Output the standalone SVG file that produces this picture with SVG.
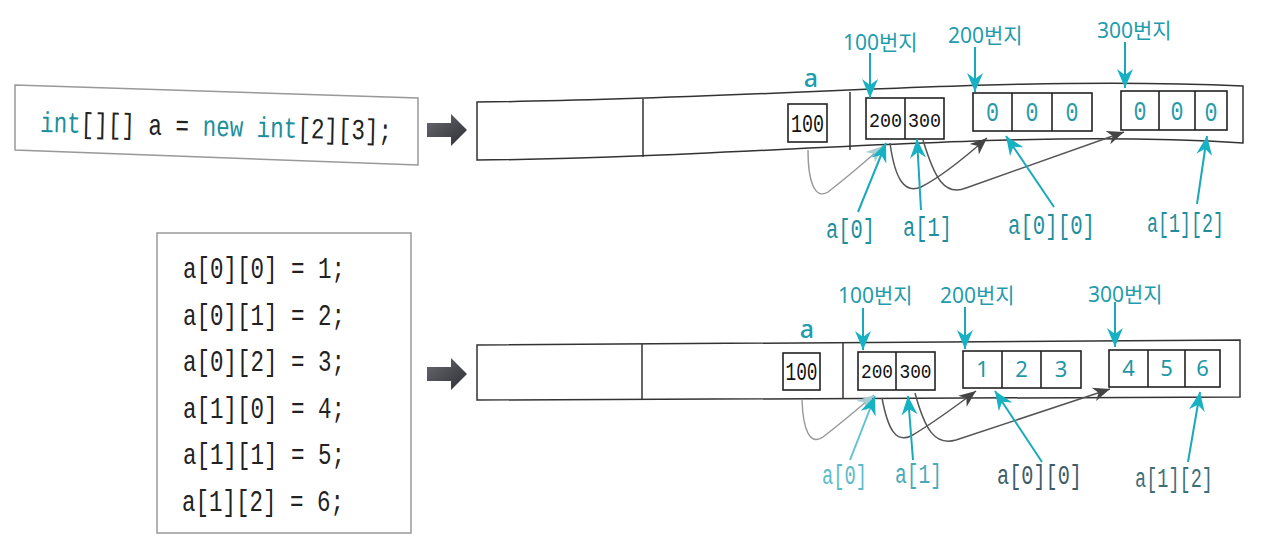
<svg xmlns="http://www.w3.org/2000/svg" width="1280" height="543" viewBox="0 0 1280 543">
<defs>
<style>
.code{font-family:"Liberation Mono","DejaVu Sans Mono",monospace;font-size:29px;fill:#222}
.kw{fill:#1c8f9b}
.lbl{font-family:"Noto Sans","Noto Sans CJK KR",sans-serif;font-size:21px;fill:#1f9cad}
.idx{font-family:"Liberation Mono","DejaVu Sans Mono",monospace;font-size:27px;fill:#1f8f9e}
.cell{fill:#fff;stroke:#222;stroke-width:1.6}
.band{fill:#fff;stroke:#333;stroke-width:1.5}
.num{font-family:"Liberation Mono","DejaVu Sans Mono",monospace;font-size:25px;fill:#111;text-anchor:middle}
.num2{font-family:"Liberation Mono","DejaVu Sans Mono",monospace;font-size:21px;fill:#111;text-anchor:middle}
.zero{font-family:"Liberation Mono","DejaVu Sans Mono",monospace;font-size:27px;fill:#2a9aa8;text-anchor:middle}
.val{font-family:"Noto Sans",sans-serif;font-size:22px;fill:#1f97a8;text-anchor:middle}
.var{font-family:"Noto Sans",sans-serif;font-size:25px;font-weight:500;fill:#1f9cad;text-anchor:middle}
.tl{fill:none;stroke:#1aa9bb;stroke-width:2}
.gl{fill:none;stroke:#555;stroke-width:1.5}
.gll{fill:none;stroke:#999;stroke-width:1.4}
.box{fill:#fff;stroke:#999;stroke-width:1.5}
</style>
<linearGradient id="gArrow" x1="0" y1="0" x2="1" y2="1">
<stop offset="0" stop-color="#6a6a72"/><stop offset="1" stop-color="#2e2e34"/>
</linearGradient>
<marker id="teal" markerUnits="userSpaceOnUse" markerWidth="22" markerHeight="16" viewBox="-20 -8 22 16" refX="0" refY="0" orient="auto">
<path d="M0,0 L-19,-8 L-13,0 L-19,8 Z" fill="#16b2c4"/>
</marker>
<marker id="gray" markerUnits="userSpaceOnUse" markerWidth="20" markerHeight="14" viewBox="-18 -7 20 14" refX="0" refY="0" orient="auto">
<path d="M0,0 L-17,-7 L-12,0 L-17,7 Z" fill="#444"/>
</marker>
<marker id="grayL" markerUnits="userSpaceOnUse" markerWidth="20" markerHeight="14" viewBox="-18 -7 20 14" refX="0" refY="0" orient="auto">
<path d="M0,0 L-17,-7 L-12,0 L-17,7 Z" fill="#a9cdd2"/>
</marker>
<path id="bigArrow" d="M0,9 L24,9 L24,0 L40,16 L24,32 L24,23 L0,23 Z"/>
</defs>
<rect width="1280" height="543" fill="#fff"/>

<!-- top code box -->
<g id="code1">
<polygon class="box" points="15,85 418,98 418,165 15,150"/>
<text class="code" x="40" y="132" transform="rotate(1.3 40 132)" textLength="352" lengthAdjust="spacingAndGlyphs"><tspan class="kw">int</tspan>[][] a = <tspan class="kw">new</tspan> <tspan class="kw">int</tspan>[2][3];</text>
</g>
<g id="arrow1"><use href="#bigArrow" x="427" y="114" fill="url(#gArrow)"/></g>

<!-- top memory band -->
<g id="mem1">
<path class="band" d="M477,102 C750,100 1000,75 1243,86 L1243,143 C1000,128 750,158 477,160 Z"/>
<line x1="643" y1="99" x2="643" y2="157" stroke="#333" stroke-width="1.5"/>
<line x1="850" y1="92" x2="850" y2="150" stroke="#333" stroke-width="1.5"/>
</g>
<g id="var1">
<text class="var" x="811" y="87">a</text>
<rect class="cell" x="788" y="104" width="39" height="38"/>
<text class="num" x="807.5" y="132" textLength="33" lengthAdjust="spacingAndGlyphs">100</text>
</g>
<g id="ref1">
<rect class="cell" x="866" y="98" width="78" height="41"/>
<line x1="905" y1="98" x2="905" y2="139" stroke="#222" stroke-width="1.6"/>
<text class="num2" x="885.5" y="127" font-size="21.5" textLength="33" lengthAdjust="spacingAndGlyphs">200</text>
<text class="num2" x="924.5" y="127" font-size="21.5" textLength="33" lengthAdjust="spacingAndGlyphs">300</text>
</g>
<g id="row1a">
<rect class="cell" x="973" y="93" width="119" height="38"/>
<line x1="1012" y1="93" x2="1012" y2="131" stroke="#222" stroke-width="1.6"/>
<line x1="1052" y1="93" x2="1052" y2="131" stroke="#222" stroke-width="1.6"/>
<text class="zero" x="992.5" y="121" textLength="13" lengthAdjust="spacingAndGlyphs">0</text>
<text class="zero" x="1032" y="121" textLength="13" lengthAdjust="spacingAndGlyphs">0</text>
<text class="zero" x="1072" y="121" textLength="13" lengthAdjust="spacingAndGlyphs">0</text>
</g>
<g id="row1b">
<rect class="cell" x="1121" y="91" width="106" height="39"/>
<line x1="1159" y1="91" x2="1159" y2="130" stroke="#222" stroke-width="1.6"/>
<line x1="1195" y1="91" x2="1195" y2="130" stroke="#222" stroke-width="1.6"/>
<text class="zero" x="1140" y="120" textLength="13" lengthAdjust="spacingAndGlyphs">0</text>
<text class="zero" x="1177" y="120" textLength="13" lengthAdjust="spacingAndGlyphs">0</text>
<text class="zero" x="1211" y="121" textLength="13" lengthAdjust="spacingAndGlyphs">0</text>
</g>
<g id="labels1">
<text class="lbl" x="843" y="50">100번지</text>
<text class="lbl" x="948" y="43">200번지</text>
<text class="lbl" x="1097" y="38">300번지</text>
<text class="idx" x="826" y="238" textLength="49" lengthAdjust="spacingAndGlyphs">a[0]</text>
<text class="idx" x="903" y="236" textLength="49" lengthAdjust="spacingAndGlyphs">a[1]</text>
<text class="idx" x="1008" y="234" textLength="87" lengthAdjust="spacingAndGlyphs">a[0][0]</text>
<text class="idx" x="1147" y="232" textLength="77" lengthAdjust="spacingAndGlyphs">a[1][2]</text>
</g>

<!-- bottom code box -->
<g id="code2">
<rect class="box" x="157" y="233" width="254" height="300"/>
<text class="code" x="183" y="278" font-size="27" textLength="162" lengthAdjust="spacingAndGlyphs">a[0][0] = 1;</text>
<text class="code" x="183" y="324.6" font-size="27" textLength="162" lengthAdjust="spacingAndGlyphs">a[0][1] = 2;</text>
<text class="code" x="183" y="371" font-size="27" textLength="162" lengthAdjust="spacingAndGlyphs">a[0][2] = 3;</text>
<text class="code" x="183" y="418" font-size="27" textLength="162" lengthAdjust="spacingAndGlyphs">a[1][0] = 4;</text>
<text class="code" x="183" y="464" font-size="27" textLength="162" lengthAdjust="spacingAndGlyphs">a[1][1] = 5;</text>
<text class="code" x="182" y="511" font-size="27" textLength="162" lengthAdjust="spacingAndGlyphs">a[1][2] = 6;</text>
</g>
<g id="arrow2"><use href="#bigArrow" x="427" y="358" fill="url(#gArrow)"/></g>

<!-- bottom memory band -->
<g id="mem2">
<polygon class="band" points="477,345 1240,340 1240,397 477,400"/>
<line x1="642" y1="344" x2="642" y2="399" stroke="#333" stroke-width="1.5"/>
<line x1="843" y1="343" x2="843" y2="398" stroke="#333" stroke-width="1.5"/>
</g>
<g id="var2">
<text class="var" x="807" y="338">a</text>
<rect class="cell" x="783" y="353" width="37" height="37"/>
<text class="num" x="801.5" y="380" textLength="32" lengthAdjust="spacingAndGlyphs">100</text>
</g>
<g id="ref2">
<rect class="cell" x="858" y="352" width="77" height="38"/>
<line x1="896" y1="352" x2="896" y2="390" stroke="#222" stroke-width="1.6"/>
<text class="num2" x="877" y="378" textLength="32" lengthAdjust="spacingAndGlyphs">200</text>
<text class="num2" x="915.5" y="378" textLength="32" lengthAdjust="spacingAndGlyphs">300</text>
</g>
<g id="row2a">
<rect class="cell" x="963" y="351" width="118" height="37"/>
<line x1="1002" y1="351" x2="1002" y2="388" stroke="#222" stroke-width="1.6"/>
<line x1="1041" y1="351" x2="1041" y2="388" stroke="#222" stroke-width="1.6"/>
<text class="val" x="982.5" y="377">1</text>
<text class="val" x="1021.5" y="377">2</text>
<text class="val" x="1061" y="377">3</text>
</g>
<g id="row2b">
<rect class="cell" x="1109" y="350" width="111" height="37"/>
<line x1="1148" y1="350" x2="1148" y2="387" stroke="#222" stroke-width="1.6"/>
<line x1="1185" y1="350" x2="1185" y2="387" stroke="#222" stroke-width="1.6"/>
<text class="val" x="1128.5" y="376">4</text>
<text class="val" x="1166.5" y="376">5</text>
<text class="val" x="1202.5" y="376">6</text>
</g>
<g id="labels2">
<text class="lbl" x="838" y="303" font-size="20">100번지</text>
<text class="lbl" x="940" y="303">200번지</text>
<text class="lbl" x="1088" y="302">300번지</text>
<text class="idx" x="822" y="484" textLength="45" lengthAdjust="spacingAndGlyphs" style="fill:#5cbccb">a[0]</text>
<text class="idx" x="895" y="483" textLength="47" lengthAdjust="spacingAndGlyphs" style="fill:#4aa9b8">a[1]</text>
<text class="idx" x="997" y="484" textLength="85" lengthAdjust="spacingAndGlyphs" style="fill:#3e5d66">a[0][0]</text>
<text class="idx" x="1135" y="487" textLength="78" lengthAdjust="spacingAndGlyphs" style="fill:#3f6f79">a[1][2]</text>
</g>

<!-- connectors -->
<g id="connectors">
<line class="tl" x1="870" y1="53" x2="870" y2="98" marker-end="url(#teal)"/>
<line class="tl" x1="975" y1="47" x2="975" y2="92" marker-end="url(#teal)"/>
<line class="tl" x1="1125" y1="42" x2="1125" y2="88" marker-end="url(#teal)"/>
<path class="gll" d="M808,150 C808,182 815,200 828,192 Q850,175 883,146" marker-end="url(#grayL)"/>
<path class="gl" d="M890,143 C895,180 905,194 921,187 Q945,175 987,138" marker-end="url(#gray)"/>
<path class="gl" d="M923,140 C935,180 945,196 966,188 L1124,132" marker-end="url(#gray)"/>
<line class="tl" x1="858" y1="212" x2="886" y2="143" marker-end="url(#teal)"/>
<line class="tl" x1="921" y1="210" x2="917" y2="139" marker-end="url(#teal)"/>
<line class="tl" x1="1054" y1="207" x2="1006" y2="136" marker-end="url(#teal)"/>
<line class="tl" x1="1197" y1="204" x2="1207" y2="136" marker-end="url(#teal)"/>

<line class="tl" x1="863" y1="308" x2="863" y2="350" marker-end="url(#teal)"/>
<line class="tl" x1="965" y1="307" x2="965" y2="349" marker-end="url(#teal)"/>
<line class="tl" x1="1115" y1="302" x2="1115" y2="347" marker-end="url(#teal)"/>
<path class="gll" d="M802,400 C803,430 810,446 823,437 Q845,420 874,395" marker-end="url(#grayL)"/>
<path class="gl" d="M882,398 C888,430 896,443 911,436 Q935,422 976,391" marker-end="url(#gray)"/>
<path class="gl" d="M915,393 C925,430 935,446 956,440 L1110,389" marker-end="url(#gray)"/>
<line class="tl" x1="850" y1="460" x2="875" y2="396" style="stroke:#5fc3d0" marker-end="url(#teal)"/>
<line class="tl" x1="913" y1="460" x2="908" y2="396" marker-end="url(#teal)"/>
<line class="tl" x1="1042" y1="462" x2="995" y2="391" marker-end="url(#teal)"/>
<line class="tl" x1="1188" y1="462" x2="1200" y2="392" marker-end="url(#teal)"/>
</g>
</svg>
